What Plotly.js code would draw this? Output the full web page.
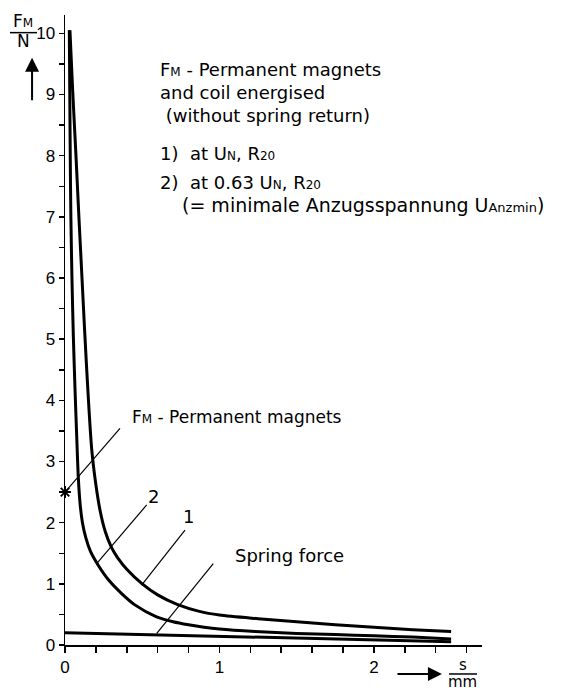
<!DOCTYPE html>
<html>
<head>
<meta charset="utf-8">
<script src="https://cdn.plot.ly/plotly-3.0.1.min.js"></script>
<style>
  html, body { margin: 0; padding: 0; background: #ffffff; }
  #chart { width: 563px; height: 691px; }
</style>
</head>
<body>
<div id="chart"></div>
<script>
// Curve 1: at U_N, R20
const s1 = [0.032, 0.05, 0.071, 0.09, 0.11, 0.128, 0.148, 0.173, 0.2, 0.227, 0.26, 0.30, 0.34, 0.40, 0.50, 0.60, 0.73, 0.87, 1.0, 1.25, 1.5, 1.75, 2.0, 2.25, 2.5];
const f1 = [10.05, 9.05, 8.0, 7.0, 6.0, 5.1, 4.17, 3.2, 2.62, 2.2, 1.86, 1.6, 1.43, 1.24, 1.0, 0.82, 0.66, 0.55, 0.49, 0.43, 0.38, 0.33, 0.29, 0.25, 0.22];
// Curve 2: at 0.63 U_N, R20
const s2 = [0.028, 0.031, 0.034, 0.038, 0.045, 0.054, 0.065, 0.076, 0.086, 0.098, 0.113, 0.135, 0.165, 0.216, 0.28, 0.367, 0.45, 0.593, 0.70, 0.80, 0.90, 1.0, 1.23, 1.5, 1.75, 2.0, 2.25, 2.5];
const f2 = [10.05, 9.0, 8.0, 7.0, 6.0, 5.05, 4.17, 3.4, 2.75, 2.3, 2.0, 1.75, 1.53, 1.3, 1.07, 0.84, 0.66, 0.46, 0.38, 0.33, 0.29, 0.26, 0.22, 0.19, 0.17, 0.15, 0.13, 0.1];
// Spring force
const sSpring = [0, 0.5, 1.0, 1.5, 2.0, 2.5];
const fSpring = [0.2, 0.17, 0.14, 0.115, 0.085, 0.055];
// Permanent magnets only
const sPM = [0];
const fPM = [2.5];

const xTickVals = [0, 1, 2];
const xTickText = ['0', '1', '2'];
const yTickVals = [0, 1, 2, 3, 4, 5, 6, 7, 8, 9, 10];
const yTickText = ['0', '1', '2', '3', '4', '5', '6', '7', '8', '9', '10'];

const TXT = 'DejaVu Sans, Liberation Sans, Arial, sans-serif';
const TICK = 'Liberation Sans, Arial, sans-serif';
const sm = (t, s) => '<span style="font-size:' + (s || 12) + 'px">' + t + '</span>';

const lineStyle = { color: '#000000', width: 3, shape: 'spline', smoothing: 0.8 };

const traces = [
  { x: s1, y: f1, mode: 'lines', line: lineStyle, name: '1', cliponaxis: false },
  { x: s2, y: f2, mode: 'lines', line: lineStyle, name: '2', cliponaxis: false },
  { x: sSpring, y: fSpring, mode: 'lines', line: { color: '#000000', width: 3 }, name: 'Spring force' },
  { x: sPM, y: fPM, mode: 'markers', marker: { symbol: 'asterisk-open', size: 10, color: '#000000', line: { color: '#000000', width: 2 } }, name: 'FM', cliponaxis: false }
];

function txt(x, y, text, xanchor, size) {
  return { x: x, y: y, xref: 'x', yref: 'y', text: text, showarrow: false, xanchor: xanchor || 'left', yanchor: 'middle', font: { family: TXT, size: size || 18, color: '#000000' } };
}
function leader(x0, y0, x1, y1) {
  return { type: 'line', xref: 'x', yref: 'y', x0: x0, y0: y0, x1: x1, y1: y1, line: { color: '#000000', width: 1.2 } };
}

const annotations = [
  txt(0.60, 9.41, 'F' + sm('M') + ' - Permanent magnets'),
  txt(0.60, 9.03, 'and coil energised'),
  txt(0.60, 8.66, ' (without spring return)'),
  txt(0.60, 8.03, '1)'),
  txt(0.796, 8.03, 'at U' + sm('N') + ', R' + sm('20')),
  txt(0.60, 7.56, '2)'),
  txt(0.796, 7.56, 'at 0.63 U' + sm('N') + ', R' + sm('20')),
  txt(0.742, 7.2, '(= minimale Anzugsspannung U' + sm('Anzmin', 13) + ')', 'left', 19),
  txt(0.42, 3.73, 'F' + sm('M') + ' - Permanent magnets', 'left', 17),
  txt(0.57, 2.42, '2', 'center'),
  txt(0.80, 2.10, '1', 'center'),
  txt(1.087, 1.47, 'Spring force'),
  // y-axis title as fraction F_M / N with upward arrow
  { xref: 'paper', yref: 'paper', x: -0.1, y: 0.991, text: 'F' + sm('M'), showarrow: false, xanchor: 'center', yanchor: 'middle', font: { family: TXT, size: 17, color: '#000000' } },
  { xref: 'paper', yref: 'paper', x: -0.1, y: 0.959, text: 'N', showarrow: false, xanchor: 'center', yanchor: 'middle', font: { family: TXT, size: 17, color: '#000000' } },
  { xref: 'paper', yref: 'paper', x: -0.079, y: 0.932, text: '', showarrow: true, arrowhead: 2, arrowsize: 1.4, arrowwidth: 2, arrowcolor: '#000000', ax: 0, ay: 44 },
  // x-axis title as fraction s / mm with right arrow
  { xref: 'paper', yref: 'paper', x: 0.904, y: -0.046, text: '', showarrow: true, arrowhead: 2, arrowsize: 1.4, arrowwidth: 2, arrowcolor: '#000000', ax: -46, ay: 0 },
  { xref: 'paper', yref: 'paper', x: 0.954, y: -0.031, text: 's', showarrow: false, xanchor: 'center', yanchor: 'middle', font: { family: TXT, size: 15, color: '#000000' } },
  { xref: 'paper', yref: 'paper', x: 0.954, y: -0.0585, text: 'mm', showarrow: false, xanchor: 'center', yanchor: 'middle', font: { family: TXT, size: 15, color: '#000000' } }
];

const shapes = [
  leader(0, 2.5, 0.356, 3.54),
  leader(0.205, 1.33, 0.529, 2.29),
  leader(0.496, 0.98, 0.777, 1.88),
  leader(0.594, 0.19, 0.96, 1.33),
  { type: 'line', xref: 'paper', yref: 'paper', x0: -0.132, x1: -0.067, y0: 0.972, y1: 0.972, line: { color: '#000000', width: 1.5 } },
  { type: 'line', xref: 'paper', yref: 'paper', x0: 0.921, x1: 0.988, y0: -0.046, y1: -0.046, line: { color: '#000000', width: 1.5 } }
];

const layout = {
  width: 563,
  height: 691,
  margin: { l: 65, r: 81, t: 15, b: 46 },
  paper_bgcolor: '#ffffff',
  plot_bgcolor: '#ffffff',
  showlegend: false,
  xaxis: {
    range: [0, 2.7],
    showgrid: false, zeroline: false,
    showline: true, linecolor: '#000000', linewidth: 1.5,
    tickmode: 'array', tickvals: xTickVals, ticktext: xTickText,
    ticks: 'outside', ticklen: 6, tickwidth: 1.5, tickcolor: '#000000',
    minor: { dtick: 0.2, ticks: 'outside', ticklen: 6, tickwidth: 1.5, tickcolor: '#000000', showgrid: false },
    tickfont: { family: TICK, size: 17, color: '#000000' }
  },
  yaxis: {
    range: [0, 10.3],
    showgrid: false, zeroline: false,
    showline: true, linecolor: '#000000', linewidth: 1.5,
    tickmode: 'array', tickvals: yTickVals, ticktext: yTickText,
    ticks: 'outside', ticklen: 5, tickwidth: 1.5, tickcolor: '#000000',
    minor: { dtick: 0.5, ticks: 'outside', ticklen: 5, tickwidth: 1.5, tickcolor: '#000000', showgrid: false },
    tickfont: { family: TICK, size: 17, color: '#000000' }
  },
  annotations: annotations,
  shapes: shapes
};

Plotly.newPlot('chart', traces, layout, { displayModeBar: false, staticPlot: true });
</script>
</body>
</html>
